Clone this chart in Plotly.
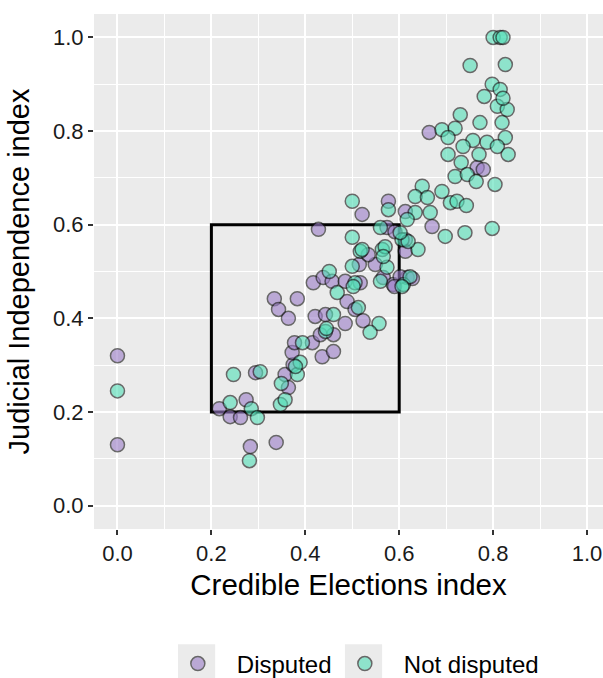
import plotly.graph_objects as go

# ---- data ----
disputed_x = [0.00, 0.00, 0.217, 0.240, 0.262, 0.274, 0.283, 0.338, 0.294,
              0.364, 0.357, 0.374, 0.372, 0.377, 0.415, 0.436,
              0.334, 0.383, 0.343, 0.364, 0.428,
              0.417, 0.438, 0.457, 0.485, 0.489, 0.515, 0.517, 0.549, 0.506,
              0.421, 0.443, 0.485, 0.523, 0.432, 0.460, 0.566, 0.587,
              0.521, 0.577, 0.613, 0.670, 0.574, 0.591, 0.613, 0.534, 0.617,
              0.602, 0.590, 0.613, 0.664, 0.766, 0.779, 0.628, 0.460]
disputed_y = [0.32, 0.13, 0.207, 0.190, 0.188, 0.226, 0.126, 0.135, 0.284,
              0.252, 0.280, 0.301, 0.327, 0.348, 0.348, 0.318,
              0.442, 0.442, 0.419, 0.400, 0.590,
              0.476, 0.487, 0.479, 0.479, 0.436, 0.515, 0.476, 0.515, 0.419,
              0.404, 0.408, 0.389, 0.395, 0.365, 0.329, 0.487, 0.472,
              0.622, 0.650, 0.628, 0.596, 0.594, 0.585, 0.543, 0.536, 0.487,
              0.489, 0.468, 0.568, 0.797, 0.722, 0.718, 0.485, 0.365]

notdisputed_x = [0.00, 0.240, 0.285, 0.298, 0.247, 0.304, 0.281,
                 0.347, 0.357, 0.349, 0.383, 0.389, 0.394, 0.443, 0.379,
                 0.451, 0.468, 0.500, 0.506, 0.513, 0.460, 0.557, 0.538, 0.445,
                 0.560, 0.574, 0.564, 0.502, 0.609, 0.623, 0.606,
                 0.500, 0.577, 0.634, 0.617, 0.649, 0.634, 0.660, 0.691, 0.709,
                 0.666, 0.698, 0.560, 0.500, 0.640, 0.606, 0.619, 0.570, 0.517,
                 0.566, 0.521, 0.602,
                 0.691, 0.719, 0.704, 0.730, 0.772, 0.819, 0.809, 0.830, 0.757,
                 0.736, 0.787, 0.826, 0.809, 0.704, 0.770, 0.832, 0.732, 0.719,
                 0.745, 0.764, 0.804, 0.723, 0.743, 0.798, 0.740,
                 0.800, 0.815, 0.821, 0.751, 0.826, 0.798, 0.815, 0.781, 0.821]
notdisputed_y = [0.245, 0.220, 0.207, 0.188, 0.280, 0.286, 0.096,
                 0.216, 0.226, 0.261, 0.280, 0.306, 0.348, 0.372, 0.297,
                 0.500, 0.455, 0.511, 0.476, 0.423, 0.408, 0.389, 0.370, 0.378,
                 0.479, 0.509, 0.547, 0.468, 0.472, 0.489, 0.468,
                 0.650, 0.632, 0.626, 0.611, 0.682, 0.660, 0.658, 0.671, 0.647,
                 0.626, 0.575, 0.594, 0.573, 0.547, 0.568, 0.564, 0.553, 0.543,
                 0.532, 0.547, 0.583,
                 0.803, 0.806, 0.786, 0.835, 0.818, 0.818, 0.853, 0.846, 0.780,
                 0.767, 0.776, 0.786, 0.767, 0.750, 0.750, 0.750, 0.733, 0.703,
                 0.707, 0.692, 0.686, 0.650, 0.641, 0.592, 0.583,
                 1.000, 1.000, 1.000, 0.940, 0.942, 0.900, 0.889, 0.874, 0.870]

group_names = ["Disputed", "Not disputed"]
tick_vals = [0.0, 0.2, 0.4, 0.6, 0.8, 1.0]
tick_text = ["0.0", "0.2", "0.4", "0.6", "0.8", "1.0"]
box_lo, box_hi = 0.2, 0.6

PURPLE = "#9B7DC8"
TEAL = "#52DEB7"
FONT = "Liberation Sans, Arial, sans-serif"

fig = go.Figure()
for name, xs, ys, col, leg in [(group_names[0], disputed_x, disputed_y, PURPLE, "legend"),
                               (group_names[1], notdisputed_x, notdisputed_y, TEAL, "legend2")]:
    fig.add_trace(go.Scatter(
        x=xs, y=ys, mode="markers", name=name, legend=leg,
        marker=dict(size=14, color=col, opacity=0.6,
                    line=dict(color="#111111", width=1.5)),
    ))

fig.add_shape(type="rect", xref="x", yref="y", x0=box_lo, y0=box_lo,
              x1=box_hi, y1=box_hi, line=dict(color="black", width=3),
              fillcolor="rgba(0,0,0,0)", layer="between")

# legend key backgrounds (ggplot style)
for x0, x1 in [(0.165, 0.238), (0.493, 0.566)]:
    fig.add_shape(type="rect", xref="paper", yref="paper", x0=x0, x1=x1,
                  y0=-0.29, y1=-0.224, line=dict(width=0),
                  fillcolor="#EBEBEB", layer="below")

axis_common = dict(
    tickvals=tick_vals, ticktext=tick_text,
    ticks="outside", ticklen=5, tickwidth=1.5, tickcolor="#333333",
    showgrid=True, gridcolor="white", gridwidth=1.5,
    minor=dict(dtick=0.1, showgrid=True, gridcolor="white", gridwidth=0.7),
    zeroline=False, showline=False, automargin=False,
    tickfont=dict(family=FONT, size=22, color="#1a1a1a"),
)

legend_common = dict(orientation="h", xref="container", yref="container",
                     xanchor="left", y=1 - 664 / 678, yanchor="middle",
                     font=dict(family=FONT, size=24, color="black"),
                     bgcolor="rgba(0,0,0,0)", itemwidth=68)

fig.update_layout(
    width=603, height=678,
    margin=dict(l=94, r=0, t=14, b=148.6, autoexpand=False),
    plot_bgcolor="#EBEBEB", paper_bgcolor="white",
    font=dict(family=FONT, color="black"),
    xaxis=dict(range=[-0.05, 1.034], **axis_common,
               title=dict(text="Credible Elections index",
                          font=dict(family=FONT, size=29.5, color="black"),
                          standoff=8)),
    yaxis=dict(range=[-0.05, 1.05], **axis_common,
               title=dict(text="Judicial Independence index",
                          font=dict(family=FONT, size=29, color="black"),
                          standoff=14)),
    showlegend=True,
    legend=dict(x=0.2634, **legend_common),
    legend2=dict(x=0.2634 + 167 / 603, **legend_common),
)

fig.write_html("out.html")
